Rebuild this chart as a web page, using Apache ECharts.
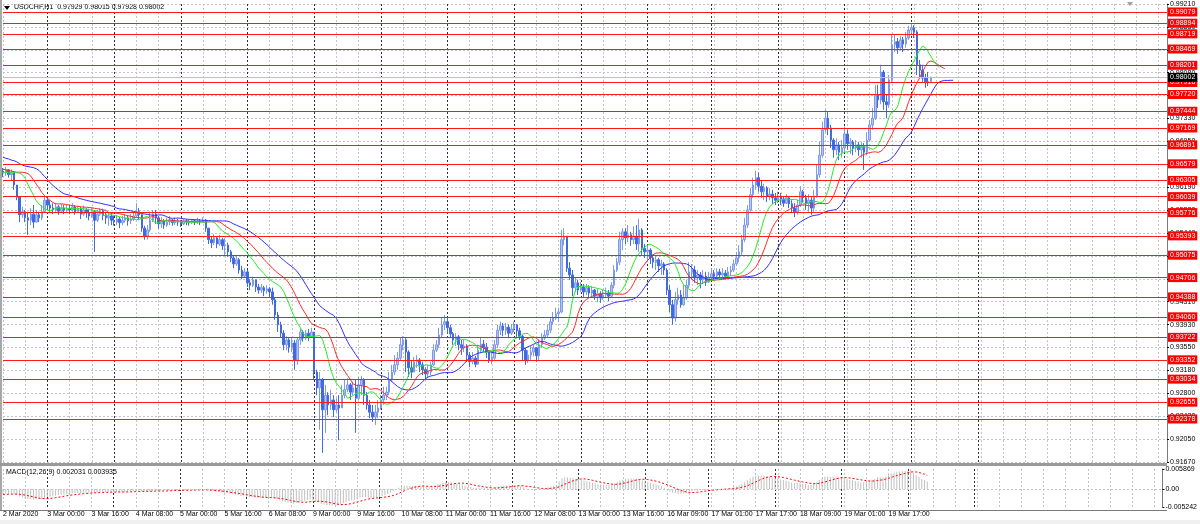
<!DOCTYPE html>
<html><head><meta charset="utf-8">
<script src="https://cdn.jsdelivr.net/npm/echarts@6/dist/echarts.min.js"></script>
<style>html,body{margin:0;padding:0;background:#fff}#c{width:1200px;height:524px}</style>
</head><body><div id="c"></div>
<script>
// ---- data (USDCHF H1, 2 Mar 2020 08:00 .. 20 Mar 2020) ----
const symbolText = 'USDCHF,H1';
const firstOpen = 0.9646;
const closes = [
0.9644,0.9648,0.9640,0.9644,0.9623,0.9603,0.9574,0.9579,
0.9569,0.9565,0.9575,0.9562,0.9574,0.9569,0.9579,0.9598,
0.9590,0.9585,0.9582,0.9587,0.9580,0.9585,0.9582,0.9584,
0.9582,0.9587,0.9579,0.9584,0.9575,0.9582,0.9577,0.9572,
0.9579,0.9565,0.9575,0.9580,0.9574,0.9569,0.9572,0.9565,
0.9562,0.9567,0.9561,0.9565,0.9569,0.9564,0.9567,0.9572,
0.9579,0.9574,0.9552,0.9539,0.9549,0.9565,0.9575,0.9569,
0.9559,0.9564,0.9557,0.9562,0.9565,0.9561,0.9564,0.9562,
0.9559,0.9564,0.9562,0.9561,0.9564,0.9562,0.9564,0.9562,
0.9565,0.9552,0.9533,0.9528,0.9536,0.9526,0.9533,0.9523,
0.9524,0.9513,0.9503,0.9493,0.9500,0.9483,0.9473,0.9480,
0.9462,0.9458,0.9467,0.9455,0.9450,0.9454,0.9449,0.9452,
0.9447,0.9434,0.9409,0.9393,0.9379,0.9360,0.9368,0.9356,
0.9363,0.9335,0.9368,0.9381,0.9371,0.9379,0.9373,0.9381,
0.9315,0.9289,0.9302,0.9253,0.9277,0.9261,0.9269,0.9253,
0.9261,0.9256,0.9277,0.9286,0.9294,0.9282,0.9289,0.9272,
0.9294,0.9302,0.9277,0.9261,0.9249,0.9241,0.9249,0.9256,
0.9269,0.9277,0.9282,0.9302,0.9315,0.9327,0.9338,0.9360,
0.9368,0.9348,0.9322,0.9315,0.9332,0.9335,0.9327,0.9319,
0.9312,0.9315,0.9327,0.9351,0.9360,0.9376,0.9393,0.9398,
0.9388,0.9378,0.9368,0.9373,0.9360,0.9355,0.9358,0.9343,
0.9332,0.9338,0.9328,0.9351,0.9361,0.9356,0.9348,0.9335,
0.9338,0.9360,0.9384,0.9391,0.9384,0.9389,0.9379,0.9386,
0.9393,0.9383,0.9374,0.9351,0.9335,0.9343,0.9348,0.9355,
0.9342,0.9360,0.9371,0.9376,0.9384,0.9398,0.9404,0.9411,
0.9414,0.9533,0.9539,0.9486,0.9475,0.9454,0.9462,0.9450,
0.9455,0.9447,0.9454,0.9445,0.9450,0.9440,0.9444,0.9437,
0.9442,0.9445,0.9440,0.9458,0.9483,0.9496,0.9533,0.9546,
0.9536,0.9541,0.9533,0.9539,0.9526,0.9549,0.9519,0.9513,
0.9516,0.9503,0.9496,0.9500,0.9490,0.9493,0.9483,0.9450,
0.9426,0.9404,0.9434,0.9442,0.9426,0.9437,0.9458,0.9480,
0.9483,0.9470,0.9475,0.9467,0.9473,0.9463,0.9470,0.9477,
0.9473,0.9480,0.9475,0.9478,0.9473,0.9480,0.9483,0.9493,
0.9503,0.9513,0.9533,0.9557,0.9582,0.9607,0.9623,0.9635,
0.9621,0.9612,0.9618,0.9605,0.9608,0.9602,0.9598,0.9605,
0.9600,0.9593,0.9602,0.9592,0.9585,0.9579,0.9590,0.9612,
0.9602,0.9592,0.9598,0.9585,0.9605,0.9640,0.9672,0.9714,
0.9733,0.9717,0.9697,0.9681,0.9689,0.9677,0.9684,0.9707,
0.9691,0.9694,0.9684,0.9689,0.9681,0.9686,0.9677,0.9697,
0.9722,0.9733,0.9771,0.9763,0.9809,0.9760,0.9755,0.9796,
0.9854,0.9859,0.9849,0.9862,0.9855,0.9865,0.9878,0.9882,
0.9875,0.9821,0.9812,0.9799,0.9793,0.97929,0.98002];
const highs = [
0.9651,0.9653,0.9649,0.9649,0.9644,0.9623,0.9603,0.9587,
0.9582,0.9579,0.9585,0.9590,0.9582,0.9579,0.9590,0.9605,
0.9602,0.9598,0.9593,0.9593,0.9590,0.9592,0.9590,0.9590,
0.9590,0.9593,0.9590,0.9589,0.9587,0.9589,0.9585,0.9584,
0.9585,0.9582,0.9582,0.9585,0.9584,0.9579,0.9579,0.9577,
0.9572,0.9574,0.9570,0.9572,0.9575,0.9572,0.9575,0.9579,
0.9593,0.9585,0.9575,0.9556,0.9557,0.9579,0.9582,0.9582,
0.9572,0.9570,0.9567,0.9569,0.9572,0.9567,0.9569,0.9567,
0.9565,0.9567,0.9567,0.9565,0.9567,0.9567,0.9569,0.9567,
0.9570,0.9567,0.9552,0.9539,0.9542,0.9539,0.9541,0.9536,
0.9536,0.9528,0.9516,0.9508,0.9508,0.9503,0.9490,0.9486,
0.9483,0.9468,0.9472,0.9467,0.9460,0.9460,0.9457,0.9458,
0.9455,0.9454,0.9437,0.9414,0.9398,0.9384,0.9374,0.9371,
0.9371,0.9368,0.9371,0.9388,0.9384,0.9384,0.9386,0.9388,
0.9381,0.9319,0.9315,0.9305,0.9294,0.9282,0.9286,0.9277,
0.9272,0.9277,0.9294,0.9302,0.9305,0.9297,0.9299,0.9302,
0.9307,0.9309,0.9305,0.9282,0.9269,0.9261,0.9261,0.9269,
0.9277,0.9291,0.9291,0.9315,0.9327,0.9343,0.9348,0.9371,
0.9374,0.9371,0.9351,0.9335,0.9340,0.9343,0.9338,0.9332,
0.9323,0.9327,0.9332,0.9361,0.9368,0.9388,0.9404,0.9409,
0.9404,0.9393,0.9381,0.9379,0.9376,0.9368,0.9368,0.9361,
0.9348,0.9348,0.9342,0.9360,0.9373,0.9368,0.9363,0.9351,
0.9348,0.9368,0.9393,0.9398,0.9396,0.9396,0.9393,0.9394,
0.9398,0.9394,0.9388,0.9376,0.9355,0.9351,0.9358,0.9360,
0.9356,0.9368,0.9379,0.9384,0.9393,0.9404,0.9414,0.9421,
0.9421,0.9549,0.9552,0.9539,0.9496,0.9483,0.9470,0.9467,
0.9463,0.9460,0.9460,0.9458,0.9457,0.9452,0.9452,0.9448,
0.9450,0.9454,0.9450,0.9463,0.9491,0.9503,0.9546,0.9552,
0.9552,0.9557,0.9546,0.9555,0.9557,0.9567,0.9552,0.9526,
0.9524,0.9519,0.9509,0.9506,0.9503,0.9500,0.9496,0.9486,
0.9458,0.9434,0.9447,0.9454,0.9450,0.9460,0.9467,0.9496,
0.9493,0.9490,0.9483,0.9480,0.9483,0.9480,0.9480,0.9486,
0.9483,0.9486,0.9485,0.9486,0.9483,0.9488,0.9490,0.9500,
0.9513,0.9524,0.9541,0.9569,0.9590,0.9618,0.9635,0.9646,
0.9644,0.9631,0.9625,0.9621,0.9618,0.9615,0.9610,0.9612,
0.9610,0.9605,0.9608,0.9605,0.9598,0.9593,0.9598,0.9621,
0.9615,0.9607,0.9608,0.9603,0.9615,0.9656,0.9694,0.9727,
0.9747,0.9743,0.9722,0.9700,0.9700,0.9694,0.9697,0.9719,
0.9714,0.9700,0.9697,0.9697,0.9694,0.9694,0.9692,0.9710,
0.9730,0.9750,0.9788,0.9788,0.9821,0.9812,0.9771,0.9804,
0.9870,0.9870,0.9865,0.9868,0.9867,0.9875,0.9885,0.9888,
0.9886,0.9878,0.9829,0.9821,0.9806,0.9809,0.98015];
const lows = [
0.9636,0.9638,0.9635,0.9631,0.9615,0.9598,0.9562,0.9569,
0.9562,0.9541,0.9557,0.9552,0.9561,0.9562,0.9565,0.9577,
0.9582,0.9579,0.9575,0.9579,0.9574,0.9577,0.9575,0.9577,
0.9575,0.9579,0.9574,0.9577,0.9567,0.9572,0.9569,0.9565,
0.9569,0.9513,0.9562,0.9572,0.9565,0.9559,0.9556,0.9557,
0.9556,0.9557,0.9552,0.9557,0.9561,0.9556,0.9559,0.9564,
0.9569,0.9565,0.9546,0.9533,0.9533,0.9546,0.9562,0.9559,
0.9551,0.9552,0.9551,0.9554,0.9557,0.9556,0.9557,0.9556,
0.9554,0.9557,0.9557,0.9556,0.9559,0.9557,0.9559,0.9557,
0.9561,0.9546,0.9526,0.9519,0.9524,0.9519,0.9523,0.9516,
0.9506,0.9505,0.9496,0.9486,0.9490,0.9477,0.9468,0.9470,
0.9455,0.9450,0.9455,0.9447,0.9444,0.9445,0.9440,0.9444,
0.9439,0.9426,0.9401,0.9381,0.9371,0.9351,0.9351,0.9347,
0.9348,0.9319,0.9327,0.9360,0.9365,0.9368,0.9366,0.9371,
0.9302,0.9277,0.9220,0.9182,0.9215,0.9244,0.9253,0.9241,
0.9249,0.9203,0.9266,0.9272,0.9282,0.9269,0.9277,0.9215,
0.9269,0.9277,0.9261,0.9253,0.9239,0.9233,0.9228,0.9239,
0.9253,0.9261,0.9269,0.9277,0.9299,0.9310,0.9319,0.9335,
0.9351,0.9315,0.9307,0.9305,0.9315,0.9322,0.9315,0.9310,
0.9302,0.9305,0.9310,0.9325,0.9348,0.9355,0.9371,0.9384,
0.9378,0.9371,0.9360,0.9358,0.9351,0.9343,0.9348,0.9332,
0.9323,0.9328,0.9323,0.9327,0.9346,0.9348,0.9338,0.9330,
0.9328,0.9335,0.9355,0.9376,0.9374,0.9376,0.9371,0.9376,
0.9381,0.9373,0.9368,0.9335,0.9327,0.9330,0.9335,0.9341,
0.9332,0.9335,0.9355,0.9368,0.9371,0.9379,0.9393,0.9401,
0.9398,0.9412,0.9524,0.9480,0.9467,0.9440,0.9447,0.9442,
0.9447,0.9439,0.9442,0.9437,0.9440,0.9434,0.9430,0.9429,
0.9434,0.9437,0.9432,0.9437,0.9453,0.9480,0.9491,0.9516,
0.9526,0.9529,0.9523,0.9526,0.9516,0.9513,0.9508,0.9503,
0.9496,0.9493,0.9486,0.9483,0.9480,0.9475,0.9475,0.9442,
0.9414,0.9393,0.9398,0.9426,0.9421,0.9424,0.9434,0.9453,
0.9467,0.9462,0.9458,0.9453,0.9460,0.9457,0.9462,0.9467,
0.9465,0.9470,0.9467,0.9470,0.9467,0.9470,0.9473,0.9480,
0.9490,0.9496,0.9508,0.9529,0.9552,0.9579,0.9602,0.9615,
0.9612,0.9602,0.9598,0.9595,0.9598,0.9592,0.9590,0.9593,
0.9590,0.9587,0.9592,0.9585,0.9577,0.9570,0.9574,0.9587,
0.9595,0.9582,0.9579,0.9574,0.9579,0.9602,0.9635,0.9668,
0.9710,0.9705,0.9684,0.9668,0.9672,0.9664,0.9668,0.9677,
0.9681,0.9674,0.9672,0.9677,0.9671,0.9668,0.9648,0.9672,
0.9694,0.9714,0.9730,0.9750,0.9756,0.9747,0.9733,0.9750,
0.9793,0.9842,0.9839,0.9845,0.9842,0.9849,0.9862,0.9872,
0.9865,0.9804,0.9799,0.9793,0.9783,0.9786,0.97928];

// horizontal levels (red) and current bid
const levels = [0.99079,0.98894,0.98719,0.98469,0.98201,0.97918,0.97720,0.97444,0.97169,0.96891,0.96579,0.96305,
                0.96039,0.95776,0.95393,0.95075,0.94706,0.94388,0.94060,0.93722,0.93352,0.93034,0.92655,0.92378];
const bidPrice = 0.98002;

// price axis
const yMin = 0.9167, yMax = 0.9921, yStep = 0.00377;
const yTickLabels = ['0.91670','0.92050','0.92420','0.92800','0.93180','0.93550','0.93930','0.94310','0.94690','0.95060',
  '0.95440','0.95820','0.96190','0.96570','0.96950','0.97330','0.97700','0.98080','0.98460','0.98830','0.99210'];

// time axis (one label each 16 bars)
const xTickLabels = ['2 Mar 2020','3 Mar 00:00','3 Mar 16:00','4 Mar 08:00','5 Mar 00:00','5 Mar 16:00','6 Mar 08:00',
  '9 Mar 00:00','9 Mar 16:00','10 Mar 08:00','11 Mar 00:00','11 Mar 16:00','12 Mar 08:00','13 Mar 00:00','13 Mar 16:00',
  '16 Mar 09:00','17 Mar 01:00','17 Mar 17:00','18 Mar 09:00','19 Mar 01:00','19 Mar 17:00'];
const daySeparators = [16,40,64,88,112,136,160,184,208,232,255,279,303,327,351];
const slotCount = 420;

// Alligator (jaw 13/8, teeth 8/5, lips 5/3): values of the lines before the first bar
const jawHead = [0.9669,0.9667,0.9666,0.9664,0.9663,0.9661,0.9658,0.9656];
const teethHead = [0.9649,0.9648,0.9647,0.9646,0.9645];
const lipsHead = [0.9644,0.9644,0.9643];
const jawSeed = 0.9654, teethSeed = 0.9644, lipsSeed = 0.9643;

// MACD
const macdSeed = {ema12: 0.9660, ema26: 0.9673, prevMacd: -0.0016};
const macdText = 'MACD(12,26,9) 0.002031 0.003935';
const macdMin = -0.005242, macdMax = 0.005869;
const macdTicks = [-0.005242, 0, 0.005869];
const macdTickLabels = ['-0.005242', '0.00', '0.005869'];

// ---- build ----
const nBars = closes.length;
const opens = closes.map((c, i) => i === 0 ? firstOpen : closes[i - 1]);
const candles = closes.map((c, i) => [opens[i], c, lows[i], highs[i]]);
const cats = Array.from({length: slotCount}, (_, i) => String(i));
const median = highs.map((h, i) => (h + lows[i]) / 2);

function smmaLine(n, shift, seed, head) {
  const out = new Array(slotCount).fill(null);
  for (let i = 0; i < head.length; i++) out[i] = head[i];
  let v = seed;
  out[shift] = v;
  for (let i = 1; i < nBars; i++) { v = (v * (n - 1) + median[i]) / n; out[i + shift] = v; }
  return out;
}
const jaw = smmaLine(13, 8, jawSeed, jawHead);
const teeth = smmaLine(8, 5, teethSeed, teethHead);
const lips = smmaLine(5, 3, lipsSeed, lipsHead);

const macd = [], signal = [];
let e12 = macdSeed.ema12, e26 = macdSeed.ema26;
for (let i = 0; i < nBars; i++) {
  if (i > 0) { e12 += (closes[i] - e12) * 2 / 13; e26 += (closes[i] - e26) * 2 / 27; }
  macd.push(e12 - e26);
}
for (let i = 0; i < nBars; i++) {
  let s = 0;
  for (let j = i - 8; j <= i; j++) s += j < 0 ? macdSeed.prevMacd : macd[j];
  signal.push(s / 9);
}

const daySet = new Set(daySeparators);
const FONT = 'Liberation Sans';
const lightGrid = {color: '#c4c4c4', type: [2, 2], width: 1};
const darkGrid = {color: '#303030', type: [2, 2], width: 1};
const levelLine = {color: '#ff1a1a', width: 1, type: 'solid', opacity: 1};

function xAxisDef(gridIndex, dark, labels) {
  return {
    type: 'category', gridIndex, data: cats, boundaryGap: false,
    axisLine: {show: false}, axisTick: {show: false},
    axisLabel: labels ? {
      show: true, interval: (i) => i % 16 === 0 && i / 16 < xTickLabels.length,
      formatter: (v) => xTickLabels[Number(v) / 16] || '', align: 'left', margin: 4,
      fontSize: 7, color: '#000', fontFamily: FONT
    } : {show: false},
    splitLine: {show: true, interval: dark ? (i) => daySet.has(i) : (i) => i % 8 === 0, lineStyle: dark ? darkGrid : lightGrid}
  };
}

const last = nBars - 1;
const titleText = symbolText + '  ' + opens[last].toFixed(5) + ' ' + highs[last].toFixed(5) + ' ' + lows[last].toFixed(5) + ' ' + closes[last].toFixed(5);

const chart = echarts.init(document.getElementById('c'), null, {renderer: 'canvas'});
chart.setOption({
  animation: false,
  backgroundColor: '#ffffff',
  textStyle: {fontFamily: FONT},
  grid: [
    {left: 3, right: 33, top: 4, height: 458},
    {left: 3, right: 33, top: 469, height: 38}
  ],
  xAxis: [xAxisDef(0, false, false), xAxisDef(0, true, false), xAxisDef(1, false, true), xAxisDef(1, true, false)],
  yAxis: [
    {
      type: 'value', gridIndex: 0, position: 'right', min: yMin, max: yMax, interval: yStep,
      axisLine: {show: true, lineStyle: {color: '#7a7a7a'}},
      axisTick: {show: true, length: 2, lineStyle: {color: '#000'}},
      axisLabel: {fontSize: 7, color: '#000', margin: 3, fontFamily: FONT,
        formatter: (v) => yTickLabels[Math.round((v - yMin) / yStep)] || ''},
      splitLine: {show: true, lineStyle: lightGrid}
    },
    {
      type: 'value', gridIndex: 1, position: 'right', min: macdMin, max: macdMax,
      axisLine: {show: true, lineStyle: {color: '#7a7a7a'}},
      axisTick: {show: true, length: 2, customValues: macdTicks, lineStyle: {color: '#000'}},
      axisLabel: {fontSize: 7, color: '#000', margin: 3, fontFamily: FONT, customValues: macdTicks,
        formatter: (v) => { const k = macdTicks.findIndex(t => Math.abs(t - v) < 1e-7); return k >= 0 ? macdTickLabels[k] : ''; }},
      splitLine: {show: false}
    }
  ],
  series: [
    {
      name: 'levels', type: 'line', xAxisIndex: 0, yAxisIndex: 0, data: [], z: 1, silent: true,
      color: '#ff1a1a',
      markLine: {
        silent: true, symbol: 'none', animation: false, precision: 5,
        lineStyle: levelLine,
        label: {position: 'end', distance: 1, color: '#fff', backgroundColor: '#ff0000', fontSize: 7,
          fontFamily: FONT, padding: [1, 2, 1, 2], formatter: (p) => Number(p.value).toFixed(5)},
        emphasis: {disabled: true},
        data: levels.map(v => ({yAxis: v, lineStyle: levelLine}))
      }
    },
    {
      name: 'bid', type: 'line', xAxisIndex: 0, yAxisIndex: 0, data: [], z: 2, silent: true,
      color: '#c0c0c0',
      markLine: {
        silent: true, symbol: 'none', animation: false, precision: 5,
        lineStyle: {color: '#c0c0c0', width: 1, type: 'solid'},
        label: {position: 'end', distance: 1, color: '#fff', backgroundColor: '#000', fontSize: 7,
          fontFamily: FONT, padding: [1, 2, 1, 2], formatter: (p) => Number(p.value).toFixed(5)},
        emphasis: {disabled: true},
        data: [{yAxis: bidPrice}]
      }
    },
    {
      name: 'USDCHF', type: 'candlestick', xAxisIndex: 0, yAxisIndex: 0, data: candles, barWidth: 2, z: 3,
      itemStyle: {color: '#b4c4f4', borderColor: '#7f99ea', color0: '#4169e1', borderColor0: '#4169e1', borderWidth: 1}
    },
    {name: 'Jaw', type: 'line', xAxisIndex: 0, yAxisIndex: 0, data: jaw, showSymbol: false, z: 4,
      lineStyle: {color: '#3030ff', width: 1}},
    {name: 'Teeth', type: 'line', xAxisIndex: 0, yAxisIndex: 0, data: teeth, showSymbol: false, z: 4,
      lineStyle: {color: '#ff2a2a', width: 1}},
    {name: 'Lips', type: 'line', xAxisIndex: 0, yAxisIndex: 0, data: lips, showSymbol: false, z: 4,
      lineStyle: {color: '#22ee22', width: 1}},
    {
      name: 'MACD', type: 'bar', xAxisIndex: 2, yAxisIndex: 1, data: macd, barWidth: 1,
      itemStyle: {color: '#c0c0c0'},
      markLine: {silent: true, symbol: 'none', precision: 6, label: {show: false}, lineStyle: {color: '#c4c4c4', type: [2, 2], width: 1},
        data: [{yAxis: 0}]}
    },
    {name: 'Signal', type: 'line', xAxisIndex: 2, yAxisIndex: 1, data: signal, showSymbol: false,
      lineStyle: {color: '#ff0000', width: 1, type: [2, 2]}}
  ],
  graphic: [
    {type: 'rect', left: 0, top: 0, shape: {width: 2, height: 510}, style: {fill: '#a8a8a8'}, silent: true},
    {type: 'rect', left: 0, top: 463, shape: {width: 1167, height: 3}, style: {fill: '#9a9a9a'}, silent: true},
    {type: 'rect', left: 0, top: 510, shape: {width: 1167, height: 1}, style: {fill: '#7a7a7a'}, silent: true},
    {type: 'rect', left: 0, top: 520, shape: {width: 1200, height: 4}, style: {fill: '#f0f0f0'}, silent: true},
    {type: 'polygon', shape: {points: [[4, 6], [10, 6], [7, 10]]}, style: {fill: '#000'}, silent: true},
    {type: 'text', left: 14, top: 4, style: {text: titleText, fontSize: 7, fill: '#000', fontFamily: FONT}, silent: true},
    {type: 'text', left: 6, top: 469, style: {text: macdText, fontSize: 7, fill: '#000', fontFamily: FONT}, silent: true},
    {type: 'polygon', shape: {points: [[1127, 2], [1133, 2], [1130, 6]]}, style: {fill: '#a0a0a0'}, silent: true}
  ]
});
</script>
</body></html>
